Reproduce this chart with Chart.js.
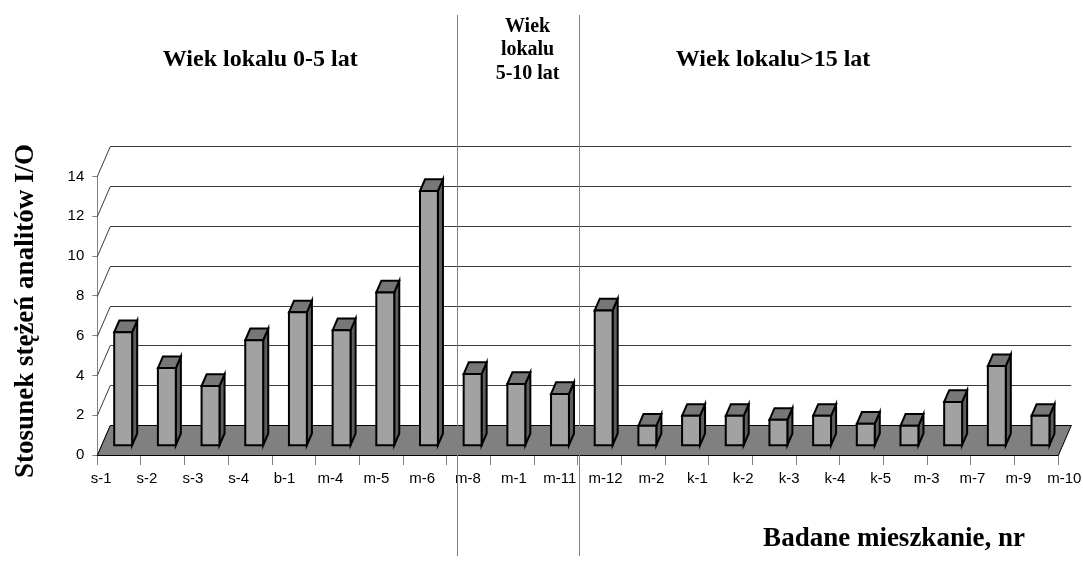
<!DOCTYPE html>
<html>
<head>
<meta charset="utf-8">
<script src="https://cdn.jsdelivr.net/npm/chart.js@4.4.1/dist/chart.umd.min.js"></script>
<style>
  html, body { margin: 0; padding: 0; background: #ffffff; }
  canvas { display: block; }
</style>
</head>
<body>
<canvas id="chart" width="1083" height="570"></canvas>
<script>
// Badane mieszkania (kolejność jak na osi)
const categories = ['s-1','s-2','s-3','s-4','b-1','m-4','m-5','m-6','m-8','m-1','m-11',
                    'm-12','m-2','k-1','k-2','k-3','k-4','k-5','m-3','m-7','m-9','m-10'];
// Stosunek stężeń I/O
const ratioIO = [5.7, 3.9, 3.0, 5.3, 6.7, 5.8, 7.7, 12.8, 3.6, 3.1, 2.6,
                 6.8, 1.0, 1.5, 1.5, 1.3, 1.5, 1.1, 1.0, 2.2, 4.0, 1.5];
const yTicks = [0, 2, 4, 6, 8, 10, 12, 14];
const groupTitles = [
  ['Wiek lokalu 0-5 lat'],
  ['Wiek', 'lokalu', '5-10 lat'],
  ['Wiek lokalu>15 lat']
];
const yTitle = 'Stosunek stężeń analitów I/O';
const xTitle = 'Badane mieszkanie, nr';

// depth of the pseudo-3D box (floor and back wall)
const DEPTH = { dx: 13, dy: -30 };
// bars occupy this slice of the depth
const BAR_FRONT = 0.31, BAR_BACK = 0.70;

const SERIF = '"Liberation Serif", "Times New Roman", serif';
const SANS = '"Liberation Sans", Arial, sans-serif';

const box3d = {
  id: 'box3d',
  beforeDraw(chart) {
    const c = chart.ctx;
    c.save();
    c.fillStyle = '#ffffff';
    c.fillRect(0, 0, chart.width, chart.height);
    c.restore();
  },
  beforeDatasetsDraw(chart) {
    const c = chart.ctx, a = chart.chartArea, y = chart.scales.y;
    c.save();
    // back-wall gridlines and the slanted side-wall ticks
    c.lineWidth = 1;
    c.strokeStyle = '#3a3a3a';
    yTicks.forEach(v => {
      const py = Math.round(y.getPixelForValue(v)) + 0.5;
      c.beginPath();
      c.moveTo(a.left, py);
      c.lineTo(a.left + DEPTH.dx, py + DEPTH.dy);
      c.lineTo(a.right + DEPTH.dx, py + DEPTH.dy);
      c.stroke();
    });
    // floor
    const y0 = Math.round(y.getPixelForValue(0)) + 0.5;
    c.beginPath();
    c.moveTo(a.left, y0);
    c.lineTo(a.right, y0);
    c.lineTo(a.right + DEPTH.dx, y0 + DEPTH.dy);
    c.lineTo(a.left + DEPTH.dx, y0 + DEPTH.dy);
    c.closePath();
    c.fillStyle = '#808080';
    c.fill();
    c.strokeStyle = '#000000';
    c.stroke();
    c.restore();
  },
  afterDatasetsDraw(chart) {
    const c = chart.ctx;
    const meta = chart.getDatasetMeta(0);
    const fx = DEPTH.dx * BAR_FRONT, fy = DEPTH.dy * BAR_FRONT;
    const bx = DEPTH.dx * (BAR_BACK - BAR_FRONT), by = DEPTH.dy * (BAR_BACK - BAR_FRONT);
    c.save();
    c.lineWidth = 2;
    c.lineJoin = 'miter';
    c.strokeStyle = '#000000';
    meta.data.forEach(bar => {
      const p = bar.getProps(['x', 'y', 'base', 'width'], true);
      const x1 = p.x - p.width / 2 + fx, x2 = p.x + p.width / 2 + fx;
      const top = p.y + fy, bot = p.base + fy;
      // side face
      c.beginPath();
      c.moveTo(x2, top); c.lineTo(x2 + bx, top + by);
      c.lineTo(x2 + bx, bot + by); c.lineTo(x2, bot); c.closePath();
      c.fillStyle = '#5e5e5e'; c.fill(); c.stroke();
      // top face
      c.beginPath();
      c.moveTo(x1, top); c.lineTo(x1 + bx, top + by);
      c.lineTo(x2 + bx, top + by); c.lineTo(x2, top); c.closePath();
      c.fillStyle = '#777777'; c.fill(); c.stroke();
      // front face
      c.beginPath();
      c.rect(x1, top, x2 - x1, bot - top);
      c.fillStyle = '#a2a2a2'; c.fill(); c.stroke();
    });
    c.restore();
  },
  afterDraw(chart) {
    const c = chart.ctx, x = chart.scales.x;
    c.save();
    // category labels, spread slightly by the perspective
    c.fillStyle = '#000000';
    c.font = '15px ' + SANS;
    c.textAlign = 'center';
    c.textBaseline = 'alphabetic';
    categories.forEach((lab, i) => {
      const px = x.getPixelForValue(i) - 18 + 2.18 * i;
      c.fillText(lab, px, 483);
    });
    // group separators
    c.strokeStyle = '#808080';
    c.lineWidth = 1;
    [7.73, 10.53].forEach(v => {
      const px = Math.round(x.getPixelForValue(v)) + 0.5;
      c.beginPath();
      c.moveTo(px, 15);
      c.lineTo(px, 556);
      c.stroke();
    });
    // group titles
    c.textAlign = 'center';
    c.font = 'bold 24px ' + SERIF;
    c.fillText(groupTitles[0][0], x.getPixelForValue(3.23), 66);
    c.fillText(groupTitles[2][0], x.getPixelForValue(14.97), 66);
    c.font = 'bold 20px ' + SERIF;
    groupTitles[1].forEach((ln, k) => {
      c.fillText(ln, x.getPixelForValue(9.35), 32 + k * 23.3);
    });
    // axis titles
    c.font = 'bold 27px ' + SERIF;
    c.fillText(xTitle, 894, 546);
    c.translate(33, 311);
    c.rotate(-Math.PI / 2);
    c.fillText(yTitle, 0, 0);
    c.restore();
  }
};

new Chart(document.getElementById('chart'), {
  type: 'bar',
  data: {
    labels: categories,
    datasets: [{
      data: ratioIO,
      backgroundColor: 'rgba(0,0,0,0)',
      borderWidth: 0,
      barPercentage: 0.41,
      categoryPercentage: 1
    }]
  },
  options: {
    responsive: false,
    animation: false,
    devicePixelRatio: 1,
    layout: { padding: { top: 176.4, right: 24.7, left: 0, bottom: 0 } },
    plugins: { legend: { display: false }, tooltip: { enabled: false } },
    scales: {
      x: {
        grid: { drawOnChartArea: false, tickLength: 10, color: '#808080', offset: true },
        border: { display: false },
        ticks: { display: false },
        afterFit(s) { s.height = 115; }
      },
      y: {
        min: 0,
        max: 14,
        afterBuildTicks(s) { s.ticks = yTicks.map(v => ({ value: v })); },
        grid: { drawOnChartArea: false, tickLength: 5, color: '#808080' },
        border: { display: true, color: '#808080' },
        ticks: { font: { family: SANS, size: 15 }, color: '#000000', padding: 8 },
        afterFit(s) { s.width = 97.3; }
      }
    }
  },
  plugins: [box3d]
});
</script>
</body>
</html>
